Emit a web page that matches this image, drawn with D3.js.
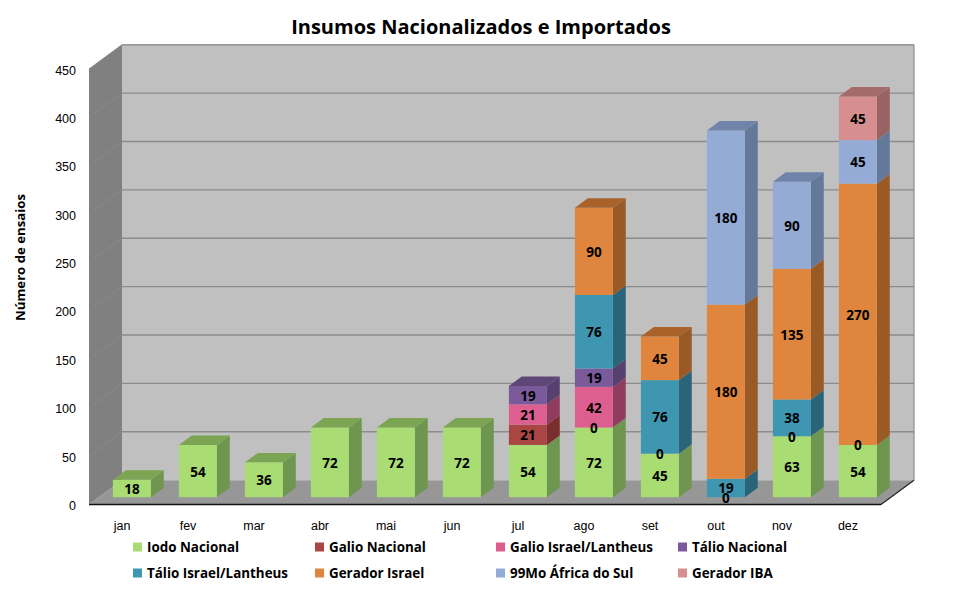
<!DOCTYPE html>
<html><head><meta charset="utf-8">
<script src="https://cdn.jsdelivr.net/npm/d3@7"></script>
<style>html,body{margin:0;padding:0;background:#fff}svg{display:block}</style>
</head><body><svg id="c" width="962" height="596"></svg>
<script>
const title = "Insumos Nacionalizados e Importados";
const yTitle = "Número de ensaios";
const months = ["jan","fev","mar","abr","mai","jun","jul","ago","set","out","nov","dez"];
const yTicks = [0,50,100,150,200,250,300,350,400,450];
const seriesNames = ["Iodo Nacional","Galio Nacional","Galio Israel/Lantheus","Tálio Nacional","Tálio Israel/Lantheus","Gerador Israel","99Mo África do Sul","Gerador IBA"];
const iodoNacional   = [18,54,36,72,72,72,54,72,45,0,63,54];
const galioNacional  = [null,null,null,null,null,null,21,0,0,null,0,0];
const galioIsrael    = [null,null,null,null,null,null,21,42,null,null,null,null];
const talioNacional  = [null,null,null,null,null,null,19,19,null,null,null,null];
const talioIsrael    = [null,null,null,null,null,null,null,76,76,19,38,null];
const geradorIsrael  = [null,null,null,null,null,null,null,90,45,180,135,270];
const mo99           = [null,null,null,null,null,null,null,null,null,180,90,45];
const geradorIBA     = [null,null,null,null,null,null,null,null,null,null,null,45];
const seriesValues = [iodoNacional,galioNacional,galioIsrael,talioNacional,talioIsrael,geradorIsrael,mo99,geradorIBA];
const frontColors = ["#A9DC72","#A94644","#DC5F8F","#7A5A9B","#3F96B0","#DF853D","#94ABD5","#D68F8E"];
const sideColors  = ["#6F9650","#7A2E2D","#8F3C5E","#56406F","#2A6478","#9A5A25","#64789A","#986362"];
const topColors   = ["#7BA552","#7A2E2D","#8F3C5E","#5E4777","#2F6F85","#A8622A","#6F84A8","#A36B6A"];

const svg = d3.select("#c");
const x = d3.scaleBand().domain(months).range([89,881]);
const y = d3.scaleLinear().domain([0,450]).range([504.5,69]);
const depthX = 33, depthY = -24.3;
const barW = 38;
const px = (m,d)=> x(m)+x.bandwidth()/2-barW/2 + d*depthX;
const pt = a=>a.map(p=>p.join(",")).join(" ");

// walls
const xL=x.range()[0], xR=x.range()[1], y0=y(0), yT=y(450);
svg.append("polygon").attr("points",pt([[xL,y0],[xL,yT],[xL+depthX,yT+depthY],[xL+depthX,y0+depthY]])).attr("fill","#808080");
svg.append("rect").attr("x",xL+depthX).attr("y",yT+depthY).attr("width",xR-xL).attr("height",y0-yT).attr("fill","#C0C0C0");
svg.append("polygon").attr("points",pt([[xL,y0],[xR,y0],[xR+depthX,y0+depthY],[xL+depthX,y0+depthY]])).attr("fill","#979797");
// gridlines
yTicks.forEach(t=>{
  if(t===0) return;
  svg.append("line").attr("x1",xL).attr("x2",xL+depthX).attr("y1",y(t)).attr("y2",y(t)+depthY).attr("stroke","#8A8A8A").attr("stroke-width",1);
  svg.append("line").attr("x1",xL+depthX).attr("x2",xR+depthX).attr("y1",y(t)+depthY).attr("y2",y(t)+depthY).attr("stroke","#8C8C8C").attr("stroke-width",1.4);
});
svg.append("line").attr("x1",xL+depthX).attr("x2",xR+depthX).attr("y1",yT+depthY).attr("y2",yT+depthY).attr("stroke","#999").attr("stroke-width",1.2);
svg.append("line").attr("x1",xR+depthX).attr("x2",xR+depthX).attr("y1",yT+depthY).attr("y2",y0+depthY).attr("stroke","#8C8C8C").attr("stroke-width",1.2);
svg.append("line").attr("x1",xL).attr("x2",xR).attr("y1",y0).attr("y2",y0).attr("stroke","#111").attr("stroke-width",1.4);
svg.append("line").attr("x1",xR).attr("x2",xR+depthX).attr("y1",y0).attr("y2",y0+depthY).attr("stroke","#222").attr("stroke-width",1.2);

// bars
const d1=0.3, d2=0.69;
const labels=[];
months.forEach((m,i)=>{
  let acc=0;
  const segs=[];
  seriesValues.forEach((s,k)=>{ if(s[i]!==null){ segs.push({k,v:s[i],a:acc,b:acc+s[i]}); acc+=s[i]; } });
  const g=svg.append("g");
  const xa=px(m,0), xb=xa+barW, off=d1*depthY, off2=d2*depthY, dd=(d2-d1)*depthX;
  segs.forEach(s=>{
    if(s.v===0) return;
    g.append("polygon").attr("points",pt([[xb+d1*depthX,y(s.a)+off],[xb+d1*depthX,y(s.b)+off],[xb+d1*depthX+dd,y(s.b)+off2],[xb+d1*depthX+dd,y(s.a)+off2]])).attr("fill",sideColors[s.k]);
    g.append("rect").attr("x",xa+d1*depthX).attr("y",y(s.b)+off).attr("width",barW).attr("height",y(s.a)-y(s.b)).attr("fill",frontColors[s.k]);
  });
  const top=segs.filter(s=>s.v>0).slice(-1)[0];
  g.append("polygon").attr("points",pt([[xa+d1*depthX,y(top.b)+off],[xb+d1*depthX,y(top.b)+off],[xb+d1*depthX+dd,y(top.b)+off2],[xa+d1*depthX+dd,y(top.b)+off2]])).attr("fill",topColors[top.k]);
  segs.forEach(s=>labels.push({x:xa+d1*depthX+barW/2,y:y((s.a+s.b)/2)+off,v:s.v}));
});
svg.append("g").selectAll("text").data(labels).join("text")
  .attr("x",d=>d.x).attr("y",d=>d.y+0.6).attr("dy","0.36em").attr("text-anchor","middle")
  .attr("font-family","'Open Sans'").attr("font-weight",700).attr("font-size",13.5).attr("fill","#000").text(d=>d.v);

// axis text
svg.append("g").selectAll("text").data(yTicks).join("text")
  .attr("x",76).attr("y",d=>y(d)+1).attr("dy","0.36em").attr("text-anchor","end")
  .attr("font-family","'Liberation Sans'").attr("font-size",12.5).attr("fill","#000").text(d=>d);
svg.append("g").selectAll("text").data(months).join("text")
  .attr("x",d=>x(d)+x.bandwidth()/2).attr("y",530).attr("text-anchor","middle")
  .attr("font-family","'Liberation Sans'").attr("font-size",12.5).attr("fill","#000").text(d=>d);
svg.append("text").attr("transform","translate(25,257.5) rotate(-90)").attr("text-anchor","middle")
  .attr("font-family","'Open Sans'").attr("font-weight",700).attr("font-size",13.2).text(yTitle);
svg.append("text").attr("x",481).attr("y",34).attr("text-anchor","middle")
  .attr("font-family","'Open Sans'").attr("font-weight",700).attr("font-size",20).text(title);

// legend
const legX=[133,315,496,678];
const legY=[547,573];
const leg=svg.append("g").selectAll("g").data(seriesNames).join("g")
  .attr("transform",(d,i)=>`translate(${legX[i%4]},${legY[Math.floor(i/4)]})`);
leg.append("rect").attr("x",0).attr("y",-4.5).attr("width",9).attr("height",9).attr("fill",(d,i)=>frontColors[i]);
leg.append("text").attr("x",14).attr("dy","0.36em").attr("font-family","'Open Sans'").attr("font-weight",700).attr("font-size",13.4).text(d=>d);
</script></body></html>
